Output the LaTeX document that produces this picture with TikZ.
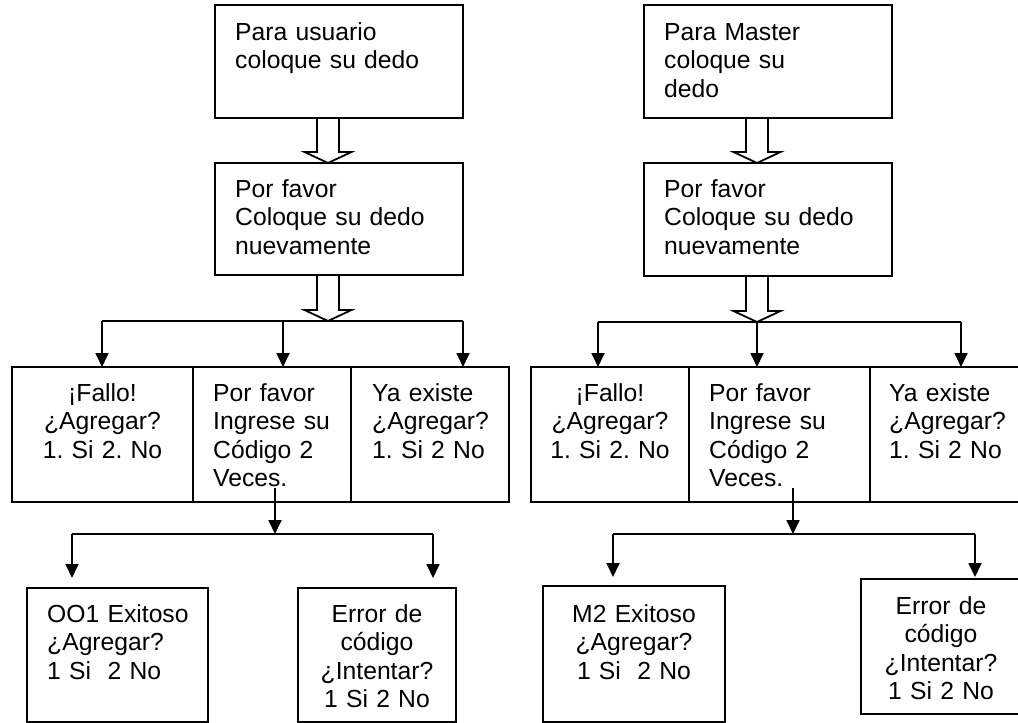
\documentclass[tikz,border=0pt]{standalone}
\usepackage{fontspec}
\setmainfont{Liberation Sans}
\frenchspacing
\usetikzlibrary{arrows.meta,calc,positioning}

\newcommand{\blockarrow}[2]{%
\draw [hollow] ($(#1)+(-11,0)$) -- ($(#2)+(-11,-11)$) -- ($(#2)+(-23.5,-11)$) -- (#2)
  -- ($(#2)+(23.5,-11)$) -- ($(#2)+(11,-11)$) -- ($(#1)+(11,0)$);}

\begin{document}
\begin{tikzpicture}[x=1pt,y=-1pt,
box/.style={draw,line width=1.8pt,inner sep=0pt,outer sep=0pt,anchor=north west},
txt/.style={inner sep=0pt,text width=200pt,font=\fontsize{24.7}{28.5}\selectfont\frenchspacing},
lft/.style={txt,align=left,anchor=base west},
ctr/.style={txt,align=center,anchor=base},
line/.style={line width=1.8pt},
arr/.style={line width=1.8pt,-{Triangle[width=13pt,length=14pt]}},
hollow/.style={line width=1.8pt,line join=miter}]

\useasboundingbox (0,0) rectangle (1018,723);
\clip (0,0) rectangle (1018,723);

% usuario
\node[box,minimum width=248pt,minimum height=113pt] (u1) at (215,5) {};
\node[box,minimum width=248pt,minimum height=112pt] (u2) at (215,163) {};
\node[box,minimum width=181pt,minimum height=135pt] (f1) at (12,367) {};
\node[box,minimum width=158pt,minimum height=135pt,right=0pt of f1.north east,anchor=north west] (f2) {};
\node[box,minimum width=158pt,minimum height=135pt,right=0pt of f2.north east,anchor=north west] (f3) {};
\node[box,minimum width=181pt,minimum height=134pt] (b1) at (27,588) {};
\node[box,minimum width=158pt,minimum height=134pt] (b2) at (298,588) {};

\node[lft] (u1t) at ($(u1.north west)+(20,35)$) {Para usuario\\coloque su dedo};
\node[lft] (u2t) at ($(u2.north west)+(20,34)$) {Por favor\\Coloque su dedo\\nuevamente};
\node[ctr] (f1t) at ($(f1.north)+(0,34)$) {¡Fallo!\\¿Agregar?\\1. Si 2. No};
\node[lft] (f2t) at ($(f2.north west)+(20,34)$) {Por favor\\Ingrese su\\Código 2\\Veces.};
\node[lft] (f3t) at ($(f3.north west)+(21,34)$) {Ya existe\\¿Agregar?\\1. Si 2 No};
\node[lft] (b1t) at ($(b1.north west)+(20,34)$) {OO1 Exitoso\\¿Agregar?\\1 Si\ \ 2 No};
\node[ctr] (b2t) at ($(b2.north)+(0,34)$) {Error de\\código\\¿Intentar?\\1 Si 2 No};

\coordinate (ua1) at ($(u1.south)+(-11,0)$);
\coordinate (ua2) at ($(u2.north)+(-11,0)$);
\coordinate (ua3) at ($(u2.south)+(-11,0)$);
\coordinate (us) at (328,321);
\coordinate (ul) at (102,321);
\coordinate (um) at (283,321);
\coordinate (ur) at (463,321);
\coordinate (uv) at (275,488);
\coordinate (ud) at (275,534);
\coordinate (ul2) at (72,534);
\coordinate (ur2) at (433,534);

\blockarrow{ua1}{ua2}
\blockarrow{ua3}{us}
\draw [line] (ul) -- (ur);
\draw [arr] (ul) -- (ul |- f1.north);
\draw [arr] (um) -- (um |- f2.north);
\draw [arr] (ur) -- (ur |- f3.north);
\draw [arr] (uv) -- (ud);
\draw [line] (ul2) -- (ur2);
\draw [arr] (ul2) -- ($(ul2 |- b1.north)+(0,-10)$);
\draw [arr] (ur2) -- ($(ur2 |- b2.north)+(0,-10)$);

% master
\node[box,minimum width=248pt,minimum height=113pt] (m1) at (644,5) {};
\node[box,minimum width=248pt,minimum height=113pt] (m2) at (644,163) {};
\node[box,minimum width=158pt,minimum height=135pt] (g1) at (531,367) {};
\node[box,minimum width=181pt,minimum height=135pt,right=0pt of g1.north east,anchor=north west] (g2) {};
\node[box,minimum width=170pt,minimum height=135pt,right=0pt of g2.north east,anchor=north west] (g3) {};
\node[box,minimum width=182pt,minimum height=136pt] (c1) at (543,586) {};
\node[box,minimum width=160pt,minimum height=135pt] (c2) at (861,579) {};

\node[lft] (m1t) at ($(m1.north west)+(20,35)$) {Para Master\\coloque su\\dedo};
\node[lft] (m2t) at ($(m2.north west)+(20,34)$) {Por favor\\Coloque su dedo\\nuevamente};
\node[ctr] (g1t) at ($(g1.north)+(0,34)$) {¡Fallo!\\¿Agregar?\\1. Si 2. No};
\node[lft] (g2t) at ($(g2.north west)+(20,34)$) {Por favor\\Ingrese su\\Código 2\\Veces.};
\node[lft] (g3t) at ($(g3.north west)+(19,34)$) {Ya existe\\¿Agregar?\\1. Si 2 No};
\node[ctr] (c1t) at ($(c1.north)+(0,36)$) {M2 Exitoso\\¿Agregar?\\1 Si\ \ 2 No};
\node[ctr] (c2t) at ($(c2.north)+(0,35)$) {Error de\\código\\¿Intentar?\\1 Si 2 No};

\coordinate (ma1) at ($(m1.south)+(-11,0)$);
\coordinate (ma2) at ($(m2.north)+(-11,0)$);
\coordinate (ma3) at ($(m2.south)+(-11,0)$);
\coordinate (ms) at (757,322);
\coordinate (ml) at (598,322);
\coordinate (mr) at (961,322);
\coordinate (mv) at (793,488);
\coordinate (md) at (793,534);
\coordinate (ml2) at (613,534);
\coordinate (mr2) at (975,534);

\blockarrow{ma1}{ma2}
\blockarrow{ma3}{ms}
\draw [line] (ml) -- (mr);
\draw [arr] (ml) -- (ml |- g1.north);
\draw [arr] (ms) -- (ms |- g2.north);
\draw [arr] (mr) -- (mr |- g3.north);
\draw [arr] (mv) -- (md);
\draw [line] (ml2) -- (mr2);
\draw [arr] (ml2) -- ($(ml2 |- c1.north)+(0,-9)$);
\draw [arr] (mr2) -- ($(mr2 |- c2.north)+(0,-2)$);
\end{tikzpicture}
\end{document}
